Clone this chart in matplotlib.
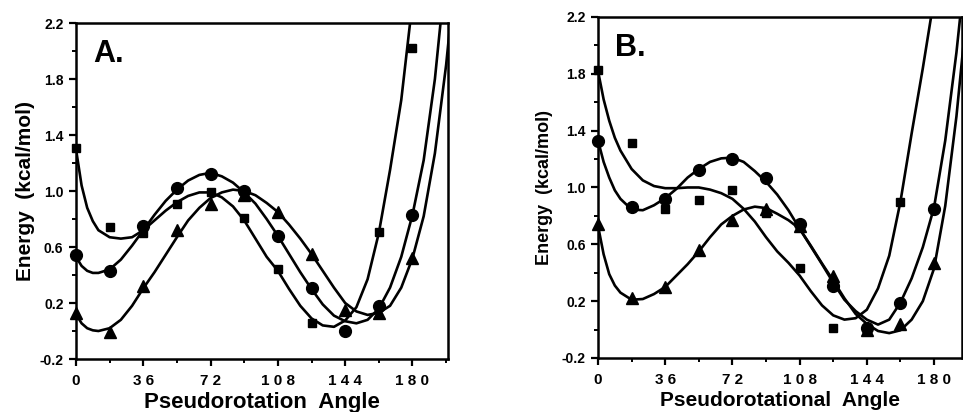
import matplotlib
matplotlib.use('Agg')
import matplotlib.pyplot as plt
from matplotlib.ticker import FixedLocator

plt.rcParams['font.family'] = ['Liberation Sans', 'DejaVu Sans']
plt.rcParams['font.weight'] = 'bold'

# measured points (pseudorotation angle, kcal/mol)
ANGLES = [0, 18, 36, 54, 72, 90, 108, 126, 144, 162, 180]

A_SQ = [1.31, 0.74, 0.70, 0.91, 0.99, 0.81, 0.44, 0.06, None, 0.71, 2.02]
A_CI = [0.54, 0.43, 0.75, 1.02, 1.12, 1.00, 0.68, 0.31, 0.00, 0.18, 0.83]
A_TR = [0.13, -0.01, 0.32, 0.72, 0.91, 0.97, 0.85, 0.55, 0.15, 0.13, 0.52]

B_SQ = [1.83, 1.31, 0.85, 0.91, 0.98, 0.82, 0.43, 0.01, 0.00, 0.90, None]
B_CI = [1.33, 0.86, 0.92, 1.12, 1.20, 1.07, 0.74, 0.31, 0.01, 0.19, 0.85]
B_TR = [0.74, 0.22, 0.30, 0.56, 0.77, 0.85, 0.73, 0.38, 0.00, 0.04, 0.47]

# fitted curves
CURVE_X = [0, 3, 6, 9, 12, 18, 24, 30, 36, 42, 48, 54, 60, 66, 72, 78, 84, 90, 96,
           102, 108, 114, 120, 126, 132, 138, 144, 150, 156, 162, 168, 174,
           180, 186, 192, 198, 204]

A_SQ_FIT = [1.30, 1.04, 0.88, 0.785, 0.72, 0.67, 0.66, 0.67, 0.72, 0.79, 0.86, 0.92, 0.965,
            0.99, 0.99, 0.955, 0.89, 0.79, 0.66, 0.53, 0.43, 0.30, 0.18, 0.09,
            0.04, 0.03, 0.075, 0.17, 0.37, 0.70, 1.15, 1.65, 2.35, 3.2, 4.0,
            5.0, 6.0]
A_CI_FIT = [0.53, 0.465, 0.43, 0.415, 0.415, 0.44, 0.51, 0.61, 0.72, 0.83, 0.93, 1.01, 1.075,
            1.115, 1.13, 1.105, 1.06, 0.99, 0.91, 0.80, 0.68, 0.55, 0.42, 0.30,
            0.19, 0.11, 0.07, 0.055, 0.08, 0.16, 0.31, 0.53, 0.83, 1.22, 1.80,
            2.6, 3.5]
A_TR_FIT = [0.12, 0.055, 0.02, 0.005, 0.0, 0.02, 0.08, 0.18, 0.305, 0.42, 0.545, 0.67, 0.79,
            0.88, 0.95, 0.99, 1.01, 1.0, 0.97, 0.915, 0.85, 0.76, 0.66, 0.55,
            0.43, 0.31, 0.20, 0.14, 0.115, 0.13, 0.18, 0.31, 0.52, 0.82, 1.27,
            1.90, 2.7]

B_SQ_FIT = [1.82, 1.62, 1.47, 1.35, 1.26, 1.13, 1.05, 1.01, 0.995, 0.995, 1.0, 1.0, 0.985,
            0.96, 0.92, 0.85, 0.76, 0.65, 0.55, 0.47, 0.38, 0.27, 0.17, 0.10,
            0.07, 0.08, 0.14, 0.29, 0.52, 0.90, 1.38, 1.84, 2.33, 3.0, 3.6,
            4.2, 4.8]
B_CI_FIT = [1.33, 1.18, 1.07, 0.98, 0.92, 0.845, 0.84, 0.875, 0.925, 0.99, 1.07, 1.13, 1.18,
            1.205, 1.21, 1.18, 1.115, 1.04, 0.95, 0.84, 0.71, 0.585, 0.46, 0.33,
            0.21, 0.13, 0.07, 0.035, 0.07, 0.19, 0.36, 0.58, 0.86, 1.33, 1.95,
            2.7, 3.5]
B_TR_FIT = [0.73, 0.53, 0.39, 0.31, 0.26, 0.21, 0.215, 0.25, 0.30, 0.38, 0.46, 0.55, 0.65,
            0.74, 0.80, 0.845, 0.865, 0.855, 0.815, 0.77, 0.71, 0.59, 0.465, 0.345,
            0.22, 0.11, 0.04, -0.01, -0.025, -0.005, 0.07, 0.20, 0.43, 0.87, 1.5,
            2.3, 3.2]

X_MAJOR = [0, 36, 72, 108, 144, 180]
X_LABELS = ['0', '3 6', '7 2', '1 0 8', '1 4 4', '1 8 0']
X_MINOR = [18, 54, 90, 126, 162, 198]
Y_MAJOR = [-0.2, 0.2, 0.6, 1.0, 1.4, 1.8, 2.2]
Y_LABELS = ['-0.2', '0.2', '0.6', '1.0', '1.4', '1.8', '2.2']
Y_MINOR = [0.0, 0.4, 0.8, 1.2, 1.6, 2.0]


def draw_panel(ax, sq, ci, tr, sq_fit, ci_fit, tr_fit, xmax, letter, xlabel, xlab_size,
               ylab_size, ylab_pad):
    for fit in (sq_fit, ci_fit, tr_fit):
        ax.plot(CURVE_X, fit, '-', color='black', lw=1.9, zorder=2)
    ax.plot(ANGLES, sq, 's', color='black', ms=6, ls='none', zorder=3, clip_on=False)
    ax.plot(ANGLES, ci, 'o', color='black', ms=8.5, ls='none', zorder=3, clip_on=False)
    ax.plot(ANGLES, tr, '^', color='black', ms=8.5, ls='none', zorder=3, clip_on=False)

    ax.set_xlim(0, xmax)
    ax.set_ylim(-0.2, 2.2)
    ax.xaxis.set_major_locator(FixedLocator(X_MAJOR))
    ax.xaxis.set_minor_locator(FixedLocator(X_MINOR))
    ax.set_xticklabels(X_LABELS)
    ax.yaxis.set_major_locator(FixedLocator(Y_MAJOR))
    ax.yaxis.set_minor_locator(FixedLocator(Y_MINOR))
    ax.set_yticklabels(Y_LABELS)
    ax.tick_params(axis='both', which='major', direction='out', length=5, width=1.6, color='black')
    ax.tick_params(axis='both', which='minor', direction='out', length=3, width=1.4)
    ax.tick_params(axis='x', which='major', pad=6, labelsize=11)
    ax.tick_params(axis='y', which='major', pad=4, labelsize=10)
    for s in ax.spines.values():
        s.set_linewidth(1.8)
    ax.set_ylabel('Energy  (kcal/mol)', fontsize=ylab_size, fontweight='bold', labelpad=ylab_pad)
    ax.set_xlabel(xlabel, fontsize=xlab_size, fontweight='bold', labelpad=3)
    ax.text(0.046, 0.885, letter, transform=ax.transAxes, fontsize=22, fontweight='bold',
            ha='left', va='baseline')


fig = plt.figure(figsize=(9.63, 4.12), dpi=100)
axA = fig.add_axes([0.0789, 0.1286, 0.3863, 0.8155])
axB = fig.add_axes([0.621, 0.1311, 0.378, 0.8277])

draw_panel(axA, A_SQ, A_CI, A_TR, A_SQ_FIT, A_CI_FIT, A_TR_FIT, 199, 'A.',
           'Pseudorotation  Angle', 16, 15, 3)
draw_panel(axB, B_SQ, B_CI, B_TR, B_SQ_FIT, B_CI_FIT, B_TR_FIT, 195, 'B.',
           'Pseudorotational  Angle', 15, 13, 6)

fig.savefig('out.png', dpi=100)
